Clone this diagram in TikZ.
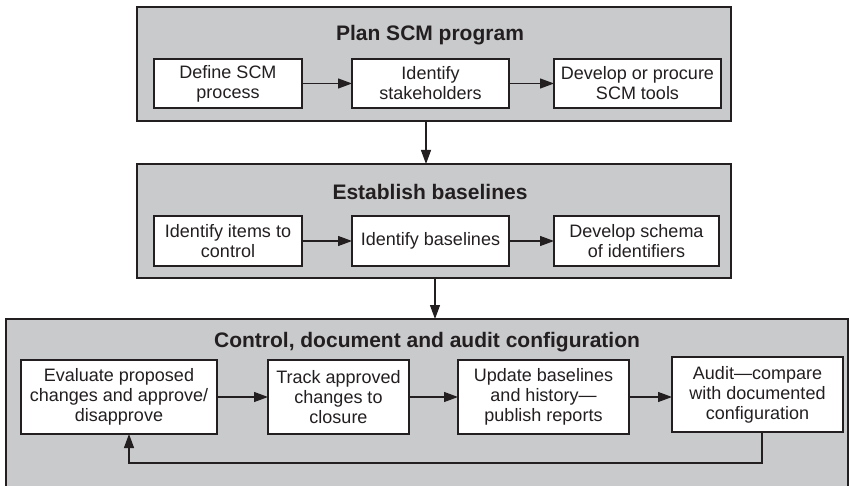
\documentclass[tikz,border=0pt]{standalone}
\usepackage{fontspec}
\setmainfont{Liberation Sans}
\usetikzlibrary{arrows.meta}
\definecolor{cpanel}{HTML}{C9CACC}
\definecolor{cink}{HTML}{231F20}
\tikzset{
  every picture/.style={line width=1.2pt},
  panel/.style={draw=cink, fill=cpanel, line width=1.5pt, inner sep=0pt, outer sep=0pt},
  stepbox/.style={draw=cink, fill=white, line width=1.2pt, align=center, inner sep=2pt, outer sep=0pt,
    text=cink, font=\fontsize{18}{20}\selectfont},
  heading/.style={text=cink, font=\fontsize{21}{24}\selectfont\bfseries},
  arrow/.style={-{Triangle[length=14pt, width=10pt]}, draw=cink, line width=1.2pt},
}
\begin{document}
\begin{tikzpicture}[x=1pt, y=-1pt]
  \useasboundingbox (0,0) rectangle (850,486);
  \clip (0,0) rectangle (850,486);
  % the three stages
  \node[panel, minimum width=594pt, minimum height=114pt] (plan) at (434,64) {};
  \node[panel, minimum width=594pt, minimum height=114pt] (base) at (434,221) {};
  \node[panel, minimum width=842pt, minimum height=181pt] (ctrl) at (427,409.5) {};
  \node[heading] at (430,35) {Plan SCM program};
  \node[heading] at (430,192) {Establish baselines};
  \node[heading] at (427,342) {Control, document and audit configuration};
  % plan SCM program
  \node[stepbox, minimum width=148pt, minimum height=49pt] (define) at (228,83.5) {Define SCM\\process};
  \node[stepbox, minimum width=157pt, minimum height=49pt] (stake) at (430.5,83.5) {Identify\\stakeholders};
  \node[stepbox, minimum width=167pt, minimum height=49pt] (tools) at (637.5,83.5) {Develop or procure\\SCM tools};
  % establish baselines
  \node[stepbox, minimum width=148pt, minimum height=50pt] (items) at (228,241) {Identify items to\\control};
  \node[stepbox, minimum width=157pt, minimum height=50pt] (bases) at (430.5,241) {Identify baselines};
  \node[stepbox, minimum width=165pt, minimum height=50pt] (schema) at (636.5,241) {Develop schema\\of identifiers};
  % control, document and audit
  \node[stepbox, minimum width=196pt, minimum height=74pt] (evaluate) at (119,397) {Evaluate proposed\\changes and approve/\\disapprove};
  \node[stepbox, minimum width=141pt, minimum height=74pt] (track) at (338.5,397) {Track approved\\changes to\\closure};
  \node[stepbox, minimum width=171pt, minimum height=74pt] (update) at (543.5,397) {Update baselines\\and history—\\publish reports};
  \node[stepbox, minimum width=171pt, minimum height=75pt] (audit) at (757.5,394.5) {Audit—compare\\with documented\\configuration};
  \foreach \a/\b in {define/stake, stake/tools, items/bases, bases/schema, evaluate/track, track/update, update/audit}
    \draw[arrow] (\a.east) -- (\a.east -| \b.west);
  \draw[arrow] ([xshift=-8pt]plan.south) -- ([xshift=-8pt]plan.south |- base.north);
  \draw[arrow] ([xshift=1pt]base.south) -- ([xshift=1pt]base.south |- ctrl.north);
  % feedback from audit to evaluation
  \coordinate (loop) at (129,463);
  \draw[arrow] ([xshift=4.5pt]audit.south) |- (loop) -- (loop |- evaluate.south);
\end{tikzpicture}
\end{document}
